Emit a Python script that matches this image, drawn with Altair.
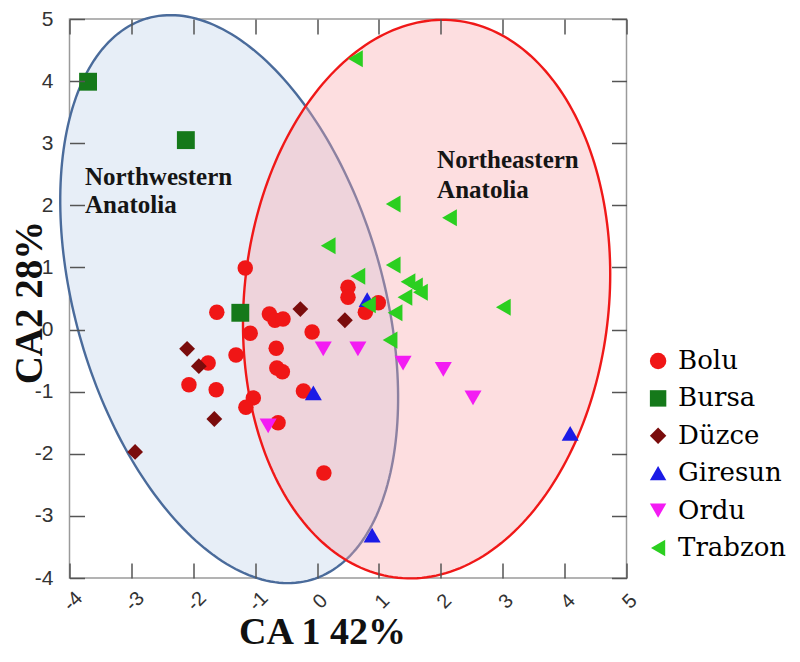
import altair as alt
import numpy as np
import pandas as pd

# ---------------- data ----------------
regions = ["Bolu", "Bursa", "Düzce", "Giresun", "Ordu", "Trabzon"]
colors = ["#f01616", "#15791a", "#7a0c0c", "#1b1be6", "#f31cf3", "#2bcf20"]
shapes = ["circle", "square", "diamond", "triangle-up", "triangle-down", "triangle-left"]
marker_size = {"Bolu": 240, "Bursa": 320, "Düzce": 250, "Giresun": 290, "Ordu": 290, "Trabzon": 290}

bolu_x = [-1.16, -1.62, -1.08, -1.31, -1.76, -2.07, -1.63, -1.03, -1.15, -0.77, -0.68, -0.55,
          -0.66, -0.65, -0.56, -0.08, -0.22, -0.63, 0.50, 0.50, 0.99, 0.78, 0.11]
bolu_y = [0.99, 0.28, -0.06, -0.41, -0.54, -0.89, -0.97, -1.10, -1.25, 0.25, 0.15, 0.17,
          -0.30, -0.62, -0.68, -0.04, -0.99, -1.50, 0.68, 0.52, 0.43, 0.28, -2.31]
bursa_x = [-3.70, -2.12, -1.24]
bursa_y = [3.99, 3.05, 0.27]
duzce_x = [-2.10, -1.91, -1.66, -2.94, -0.27, 0.45]
duzce_y = [-0.31, -0.59, -1.44, -1.97, 0.33, 0.15]
giresun_x = [-0.06, 0.81, 0.89, 4.09]
giresun_y = [-1.02, 0.48, -3.31, -1.67]
ordu_x = [-0.79, 0.10, 0.66, 1.39, 2.04, 2.52]
ordu_y = [-1.55, -0.31, -0.31, -0.54, -0.64, -1.10]
trabzon_x = [0.62, 1.23, 2.14, 0.18, 1.23, 0.66, 1.47, 1.59, 1.67, 1.42, 0.83, 1.26, 1.18, 3.01]
trabzon_y = [4.36, 2.02, 1.80, 1.35, 1.04, 0.86, 0.77, 0.70, 0.60, 0.52, 0.40, 0.27, -0.17, 0.36]

# confidence ellipses: centre, semi-major (near vertical), semi-minor, tilt in degrees (+ = top leans left)
ell_cx = [-1.42, 1.77]
ell_cy = [0.49, 0.49]
ell_a = [4.71, 4.51]
ell_b = [2.485, 2.946]
ell_tilt = [16.4, -5.9]

annot_text = ["Northwestern", "Anatolia", "Northeastern", "Anatolia"]
annot_x = [-3.75, -3.75, 1.94, 1.94]
annot_y = [2.33, 1.88, 2.60, 2.12]

tick_values = [-4, -3, -2, -1, 0, 1, 2, 3, 4, 5]

SERIF = "Liberation Serif"
LEGEND_FONT = "DejaVu Serif"
SANS = "Liberation Sans"

# ---------------- tables ----------------
series = {
    "Bolu": (bolu_x, bolu_y), "Bursa": (bursa_x, bursa_y), "Düzce": (duzce_x, duzce_y),
    "Giresun": (giresun_x, giresun_y), "Ordu": (ordu_x, ordu_y), "Trabzon": (trabzon_x, trabzon_y),
}
rows = []
for r, (xs, ys) in series.items():
    for xv, yv in zip(xs, ys):
        rows.append({"x": xv, "y": yv, "region": r, "sz": marker_size[r]})
pts_df = pd.DataFrame(rows)


def ellipse_df(i):
    t = np.linspace(0, 2 * np.pi, 241)
    phi = np.radians(ell_tilt[i])
    u = ell_b[i] * np.cos(t)
    v = ell_a[i] * np.sin(t)
    x = ell_cx[i] + u * np.cos(phi) - v * np.sin(phi)
    y = ell_cy[i] + u * np.sin(phi) + v * np.cos(phi)
    return pd.DataFrame({"x": x, "y": y, "o": np.arange(len(t))})


text_df = pd.DataFrame({"x": annot_x, "y": annot_y, "t": annot_text})

xscale = alt.Scale(domain=[-4, 5], nice=False, zero=False)
yscale = alt.Scale(domain=[-4, 5], nice=False, zero=False)

common_axis = dict(values=tick_values, grid=False, domain=False, offset=-15, tickSize=15,
                   tickColor="#555555", tickWidth=1.5, zindex=1)

x_axis = alt.Axis(
    **common_axis, labelAngle=-45, labelAlign="center", labelBaseline="middle",
    labelPadding=23, labelOffset=3, labelFont=SANS, labelFontSize=20,
    labelColor="#333333", labelExpr="'' + datum.value",
    title="CA 1 42%", titleFont=SERIF, titleFontSize=38, titleFontWeight="bold",
    titleColor="#111111", titleX=252.5, titleY=80, titleAlign="center", titleBaseline="alphabetic",
)
y_axis = alt.Axis(
    **common_axis, labelPadding=16.5, labelFont=SANS, labelFontSize=21,
    labelColor="#333333", labelExpr="'' + datum.value",
    title="CA2  28%", titleFont=SERIF, titleFontSize=39, titleFontWeight="bold",
    titleColor="#111111", titleX=-55, titleY=283, titleAlign="center", titleBaseline="middle",
    titleAngle=270,
)
top_axis = alt.Axis(**common_axis, orient="top", labels=False, title=None)
right_axis = alt.Axis(**common_axis, orient="right", labels=False, title=None)

blue = alt.Chart(ellipse_df(0)).mark_line(
    fill="#e7eef7", stroke="#4a6b9b", strokeWidth=2.4
).encode(
    x=alt.X("x:Q", scale=xscale, axis=x_axis),
    y=alt.Y("y:Q", scale=yscale, axis=y_axis),
    order="o:Q",
)
red = alt.Chart(ellipse_df(1)).mark_line(
    fill="#faa7ac", fillOpacity=0.375, stroke="#f01818", strokeWidth=2.4
).encode(
    x=alt.X("x:Q", scale=xscale, axis=None),
    y=alt.Y("y:Q", scale=yscale, axis=None),
    order="o:Q",
)

legend = alt.Legend(
    title=None, orient="none", legendX=575.6, legendY=329, padding=0,
    labelFont=LEGEND_FONT, labelFontSize=26, labelFontWeight="normal",
    labelColor="#000000", labelLimit=0,
    rowPadding=11.4, labelOffset=7, symbolSize=270, symbolStrokeWidth=0, symbolOpacity=1,
)

points = alt.Chart(pts_df).mark_point(filled=True, opacity=1, strokeWidth=0).encode(
    x=alt.X("x:Q", scale=xscale, axis=top_axis),
    y=alt.Y("y:Q", scale=yscale, axis=right_axis),
    color=alt.Color("region:N", scale=alt.Scale(domain=regions, range=colors), legend=legend),
    shape=alt.Shape("region:N", scale=alt.Scale(domain=regions, range=shapes), legend=legend),
    size=alt.Size("sz:Q", scale=None),
)

labels = alt.Chart(text_df).mark_text(
    align="left", baseline="alphabetic", font=SERIF, fontSize=25,
    fontWeight="bold", color="#151515"
).encode(
    x=alt.X("x:Q", scale=xscale, axis=None),
    y=alt.Y("y:Q", scale=yscale, axis=None),
    text="t:N",
)

chart = alt.layer(blue, red, points, labels).resolve_axis(
    x="independent", y="independent"
).properties(
    width=557, height=559,
    autosize=alt.AutoSizeParams(type="none"),
    padding={"left": 61.5, "top": 11, "right": 165.5, "bottom": 72},
).configure_view(
    stroke="#9a9a9a", strokeWidth=1.5
).configure_legend(
    labelFont=LEGEND_FONT, labelFontSize=26, labelFontWeight="normal", labelColor="#000000",
    labelLimit=0, rowPadding=11.4, labelOffset=7, symbolSize=270, symbolStrokeWidth=0,
    symbolOpacity=1,
)

chart.save("out.html", embed_options={"renderer": "svg", "actions": False})
